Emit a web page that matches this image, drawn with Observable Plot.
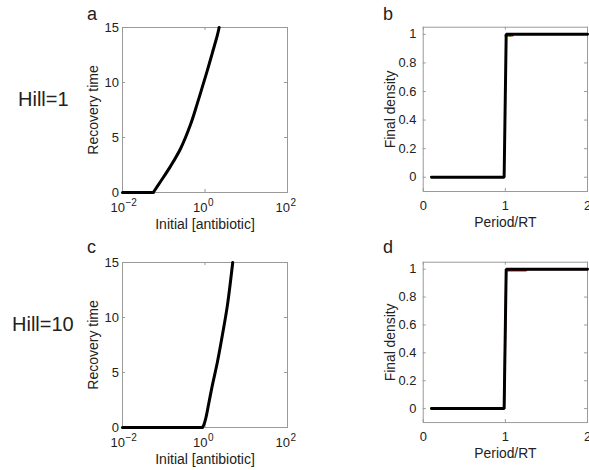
<!DOCTYPE html>
<html>
<head>
<meta charset="utf-8">
<script src="https://cdn.jsdelivr.net/npm/d3@7"></script>
<script src="https://cdn.jsdelivr.net/npm/@observablehq/plot@0.6"></script>
<style>
  html, body { margin: 0; padding: 0; background: #fff; overflow: hidden; }
  #figure { position: relative; width: 589px; height: 470px; overflow: hidden; background: #fff;
            font-family: "Liberation Sans", Arial, Helvetica, sans-serif; color: #222; }
  .panel { position: absolute; }
  .tag { position: absolute; line-height: 1; white-space: nowrap; }
</style>
</head>
<body>
<div id="figure">
  <div class="panel" id="panel-a" style="left:0;top:0"></div>
  <div class="panel" id="panel-b" style="left:300px;top:0"></div>
  <div class="panel" id="panel-c" style="left:0;top:235px"></div>
  <div class="panel" id="panel-d" style="left:300px;top:235px"></div>
  <div class="tag" style="left:87px;top:5px;font-size:18px">a</div>
  <div class="tag" style="left:383px;top:5px;font-size:18px">b</div>
  <div class="tag" style="left:87px;top:238px;font-size:18px">c</div>
  <div class="tag" style="left:383px;top:238px;font-size:18px">d</div>
  <div class="tag" style="left:18px;top:89px;font-size:20px">Hill=1</div>
  <div class="tag" style="left:12px;top:314px;font-size:20px">Hill=10</div>
</div>
<script>
// Recovery time against initial antibiotic concentration (Hill coefficient 1)
const antibioticHill1 = [0.01, 0.0557, 0.0838, 0.1466, 0.2565, 0.448, 0.652, 0.863, 1.14, 1.51, 1.995, 2.2];
const recoveryHill1   = [0,    0,      1.0,    2.4,    4.0,    6.2,   8.1,   9.6,   11.1,  12.7, 14.3,  15];

// Recovery time against initial antibiotic concentration (Hill coefficient 10)
const antibioticHill10 = [0.01, 0.86, 0.94, 1.04, 1.25, 1.51, 2.0, 2.64, 3.49, 4.7];
const recoveryHill10   = [0,    0,    0.25, 0.8,  2.3,  3.85, 5.95, 8.4, 11.1, 15];

// Final density against dosing period / recovery time
const periodHill1  = [0.1, 0.985, 1.01, 2];
const densityHill1 = [0,   0,     1,    1];
const periodHill1Green  = [1.0, 1.01, 1.06];
const densityHill1Green = [0.99, 0.99, 0.99];
const periodHill1Red  = [1.06, 1.09];
const densityHill1Red = [0.992, 0.992];

const periodHill10  = [0.1, 0.985, 1.01, 2];
const densityHill10 = [0,   0,     1,    1];
const periodHill10Red  = [0.1, 0.985, 1.01, 1.25, 1.27, 2];
const densityHill10Red = [0,   0,     0.99, 0.99, 1,    1];

// Axis ticks and labels
const concTicks = [0.01, 1, 100];
const concTickBase = ["10", "10", "10"];
const concTickExp = ["\u22122", "0", "2"];
const recoveryTicks = [0, 5, 10, 15];
const periodTicks = [0, 1, 2];
const densityTicks = [0, 0.2, 0.4, 0.6, 0.8, 1];
const concLabel = "Initial [antibiotic]";
const recoveryLabel = "Recovery time";
const periodLabel = "Period/RT";
const densityLabel = "Final density";

const FONT = '"Liberation Sans", Arial, Helvetica, sans-serif';
const BOX = "#9a9a9a";
const INK = "#222";
const TICK = 3;

const rows = (xs, ys) => xs.map((x, i) => ({x, y: ys[i]}));

// MATLAB-style inward tick marks on all four sides of the box
function innerTicks(xTicks, yTicks, fw, fh) {
  return [
    Plot.tickX(xTicks, {x: d => d, stroke: BOX, insetTop: fh - TICK}),
    Plot.tickX(xTicks, {x: d => d, stroke: BOX, insetBottom: fh - TICK}),
    Plot.tickY(yTicks, {y: d => d, stroke: BOX, insetRight: fw - TICK}),
    Plot.tickY(yTicks, {y: d => d, stroke: BOX, insetLeft: fw - TICK})
  ];
}

function label(text, anchor, offset) {
  return anchor === "bottom"
    ? Plot.text([text], {text: d => d, frameAnchor: "bottom", textAnchor: "middle", lineAnchor: "middle", dy: offset, fontSize: 14, fill: INK})
    : Plot.text([text], {text: d => d, frameAnchor: "left", textAnchor: "middle", lineAnchor: "middle", rotate: -90, dx: offset, fontSize: 14, fill: INK});
}

function recoveryPanel(conc, rec) {
  const W = 300, H = 235, ml = 122, mr = 13, mt = 27, mb = 43;
  const fw = W - ml - mr, fh = H - mt - mb;
  const ticks = concTicks.map((v, i) => ({v, base: concTickBase[i], exp: concTickExp[i]}));
  const pts = rows(conc, rec);
  // below the threshold the recovery time is zero; above it the curve rises smoothly
  const rise = pts.findIndex(p => p.y > 0) - 1;
  return Plot.plot({
    width: W, height: H,
    marginLeft: ml, marginRight: mr, marginTop: mt, marginBottom: mb,
    style: {fontFamily: FONT, fontSize: "13px", color: INK, background: "transparent", overflow: "visible"},
    x: {type: "log", domain: [0.01, 100], axis: null},
    y: {domain: [0, 15], axis: null},
    marks: [
      Plot.frame({stroke: BOX}),
      ...innerTicks(concTicks, recoveryTicks, fw, fh),
      Plot.axisY(recoveryTicks, {tickSize: 0, tickPadding: 3.5, label: null, fontSize: 13}),
      Plot.text(ticks, {x: "v", text: "base", frameAnchor: "bottom", textAnchor: "end", lineAnchor: "middle", dx: 2.5, dy: 15.5, fontSize: 13, fill: INK}),
      Plot.text(ticks, {x: "v", text: "exp", frameAnchor: "bottom", textAnchor: "start", lineAnchor: "middle", dx: 3, dy: 10.5, fontSize: 10, fill: INK}),
      label(concLabel, "bottom", 32),
      label(recoveryLabel, "left", -29),
      Plot.line(pts.slice(0, rise + 1), {x: "x", y: "y", stroke: "#000", strokeWidth: 3}),
      Plot.line(pts.slice(rise), {x: "x", y: "y", stroke: "#000", strokeWidth: 3, curve: "catmull-rom"})
    ]
  });
}

function densityPanel(series, mb) {
  const W = 292, H = 235, ml = 124, mr = 2, mt = 27;
  const fw = W - ml - mr, fh = H - mt - mb;
  return Plot.plot({
    width: W, height: H,
    marginLeft: ml, marginRight: mr, marginTop: mt, marginBottom: mb,
    style: {fontFamily: FONT, fontSize: "13px", color: INK, background: "transparent", overflow: "visible"},
    x: {domain: [0, 2]},
    y: {domain: [-0.1, 1.05]},
    marks: [
      Plot.frame({stroke: BOX}),
      ...innerTicks(periodTicks, densityTicks, fw, fh),
      Plot.axisY(densityTicks, {tickSize: 0, tickPadding: 7, tickFormat: d3.format("~g"), label: null, fontSize: 13}),
      Plot.axisX(periodTicks, {tickSize: 0, tickPadding: 9, tickFormat: d3.format("~g"), label: null, fontSize: 13}),
      label(periodLabel, "bottom", 31),
      label(densityLabel, "left", -32.5),
      ...series.map(s => Plot.line(rows(s.x, s.y), {x: "x", y: "y", stroke: s.color, strokeWidth: s.width, strokeLinejoin: "miter"}))
    ]
  });
}

document.getElementById("panel-a").append(recoveryPanel(antibioticHill1, recoveryHill1));
document.getElementById("panel-c").append(recoveryPanel(antibioticHill10, recoveryHill10));
document.getElementById("panel-b").append(densityPanel([
  {x: periodHill1Green, y: densityHill1Green, color: "#1a9a1a", width: 2},
  {x: periodHill1Red, y: densityHill1Red, color: "#d01010", width: 2},
  {x: periodHill1, y: densityHill1, color: "#000", width: 3}
], 42));
document.getElementById("panel-d").append(densityPanel([
  {x: periodHill10Red, y: densityHill10Red, color: "#d01010", width: 2},
  {x: periodHill10, y: densityHill10, color: "#000", width: 3}
], 46));
</script>
</body>
</html>
